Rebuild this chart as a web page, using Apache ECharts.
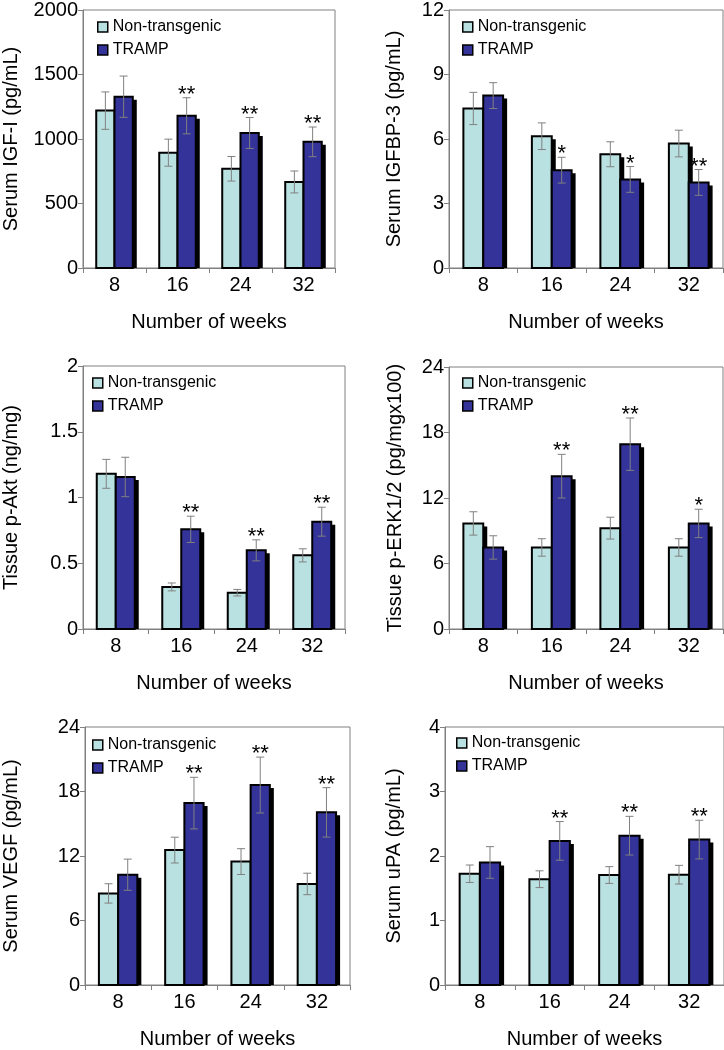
<!DOCTYPE html>
<html>
<head>
<meta charset="utf-8">
<script src="https://cdn.jsdelivr.net/npm/echarts@6/dist/echarts.min.js"></script>
<style>
  html, body { margin: 0; padding: 0; background: #fff; }
  #main { width: 724px; height: 1050px; }
</style>
</head>
<body>
<div id="main"></div>
<script>
// weeks on the x axis
const weeks = ['8', '16', '24', '32'];
const groupNames = ['Non-transgenic', 'TRAMP'];

// Serum IGF-I (pg/mL)
const igfNT = [1220, 894, 769, 667];
const igfNTErr = [145, 105, 95, 85];
const igfTR = [1328, 1180, 1047, 978];
const igfTRErr = [160, 140, 120, 115];
const igfStars = ['', '**', '**', '**'];

// Serum IGFBP-3 (pg/mL)
const bp3NT = [7.42, 6.13, 5.29, 5.79];
const bp3NTErr = [0.75, 0.62, 0.58, 0.62];
const bp3TR = [8.02, 4.55, 4.12, 3.98];
const bp3TRErr = [0.6, 0.6, 0.6, 0.6];
const bp3Stars = ['', '*', '*', '**'];

// Tissue p-Akt (ng/mg)
const aktNT = [1.18, 0.32, 0.276, 0.56];
const aktNTErr = [0.11, 0.03, 0.025, 0.05];
const aktTR = [1.156, 0.758, 0.598, 0.816];
const aktTRErr = [0.15, 0.1, 0.08, 0.11];
const aktStars = ['', '**', '**', '**'];

// Tissue p-ERK1/2 (pg/mgx100)
const erkNT = [9.67, 7.47, 9.24, 7.47];
const erkNTErr = [1.07, 0.8, 1.0, 0.8];
const erkTR = [7.47, 14.0, 16.93, 9.67];
const erkTRErr = [1.07, 2.0, 2.4, 1.3];
const erkStars = ['', '**', '**', '*'];

// Serum VEGF (pg/mL)
const vegfNT = [8.52, 12.55, 11.48, 9.4];
const vegfNTErr = [0.9, 1.2, 1.2, 1.0];
const vegfTR = [10.26, 16.92, 18.6, 16.06];
const vegfTRErr = [1.45, 2.4, 2.6, 2.3];
const vegfStars = ['', '**', '**', '**'];

// Serum uPA (pg/mL)
const upaNT = [1.725, 1.64, 1.705, 1.71];
const upaNTErr = [0.135, 0.13, 0.13, 0.145];
const upaTR = [1.9, 2.234, 2.315, 2.254];
const upaTRErr = [0.245, 0.3, 0.3, 0.3];
const upaStars = ['', '**', '**', '**'];

const NT_COLOR = '#b9e1e1';
const TR_COLOR = '#333399';
const GRAY = '#808080';
const FONT = '"Liberation Sans", Arial, sans-serif';

const panels = [
  { title: 'Serum IGF-I (pg/mL)', max: 2000, step: 500, nt: igfNT, ntErr: igfNTErr, tr: igfTR, trErr: igfTRErr, stars: igfStars,
    grid: { left: 82, top: 7, width: 253, height: 261 }, legend: { left: 97, top: 19 }, nameGap: 62 },
  { title: 'Serum IGFBP-3 (pg/mL)', max: 12, step: 3, nt: bp3NT, ntErr: bp3NTErr, tr: bp3TR, trErr: bp3TRErr, stars: bp3Stars,
    grid: { left: 449, top: 7, width: 274, height: 261 }, legend: { left: 462, top: 19 }, nameGap: 45 },
  { title: 'Tissue p-Akt (ng/mg)', max: 2, step: 0.5, nt: aktNT, ntErr: aktNTErr, tr: aktTR, trErr: aktTRErr, stars: aktStars,
    grid: { left: 81, top: 366, width: 264, height: 263 }, legend: { left: 92, top: 375 }, nameGap: 62 },
  { title: 'Tissue p-ERK1/2 (pg/mgx100)', max: 24, step: 6, nt: erkNT, ntErr: erkNTErr, tr: erkTR, trErr: erkTRErr, stars: erkStars,
    grid: { left: 449, top: 367, width: 274, height: 262 }, legend: { left: 462, top: 375 }, nameGap: 44 },
  { title: 'Serum VEGF (pg/mL)', max: 24, step: 6, nt: vegfNT, ntErr: vegfNTErr, tr: vegfTR, trErr: vegfTRErr, stars: vegfStars,
    grid: { left: 82, top: 727, width: 268, height: 262 }, legend: { left: 92, top: 737 }, nameGap: 64 },
  { title: 'Serum uPA (pg/mL)', max: 4, step: 1, nt: upaNT, ntErr: upaNTErr, tr: upaTR, trErr: upaTRErr, stars: upaStars,
    grid: { left: 445, top: 727, width: 279, height: 262 }, legend: { left: 456, top: 735 }, nameGap: 41 }
];

// bar with drop shadow, error bar and significance stars
function barRenderer(side, color, stars) {
  return function (params, api) {
    var idx = api.value(0), val = api.value(1), err = api.value(2);
    var base = api.coord([idx, 0]);
    var top = api.coord([idx, val]);
    var band = api.size([1, 0])[0];
    var w = band * 0.29;
    var x = side === 0 ? base[0] - w : base[0];
    var h = base[1] - top[1];
    var cx = x + w / 2;
    var hi = api.coord([idx, val + err])[1];
    var lo = api.coord([idx, val - err])[1];
    var children = [
      { type: 'rect', shape: { x: x + 4, y: top[1] + 3, width: w, height: h - 3 }, style: { fill: '#000' } },
      { type: 'rect', shape: { x: x, y: top[1], width: w, height: h }, style: { fill: color, stroke: '#000', lineWidth: 2 } },
      { type: 'line', shape: { x1: cx, y1: hi, x2: cx, y2: lo }, style: { stroke: GRAY, lineWidth: 1 } },
      { type: 'line', shape: { x1: cx - 4, y1: hi, x2: cx + 4, y2: hi }, style: { stroke: GRAY, lineWidth: 1 } },
      { type: 'line', shape: { x1: cx - 4, y1: lo, x2: cx + 4, y2: lo }, style: { stroke: GRAY, lineWidth: 1 } }
    ];
    var s = stars ? stars[params.dataIndex] : '';
    if (s) {
      children.push({ type: 'text', x: cx, y: hi - 3, style: {
        text: s, fill: '#000', font: '22px ' + FONT, align: 'center', verticalAlign: 'middle' } });
    }
    return { type: 'group', children: children };
  };
}

const grids = [], xAxes = [], yAxes = [], legends = [], series = [];

panels.forEach(function (p, i) {
  grids.push(Object.assign({ show: true, borderColor: GRAY, borderWidth: 1, backgroundColor: '#fff' }, p.grid));
  xAxes.push({
    type: 'category', gridIndex: i, data: weeks,
    name: 'Number of weeks', nameLocation: 'middle', nameGap: 44,
    nameTextStyle: { fontSize: 20, color: '#000', fontFamily: FONT },
    axisLine: { lineStyle: { color: GRAY } },
    axisTick: { show: true, length: 5, lineStyle: { color: GRAY } },
    axisLabel: { fontSize: 20, color: '#000', fontFamily: FONT, margin: 7 }
  });
  yAxes.push({
    type: 'value', gridIndex: i, min: 0, max: p.max, interval: p.step,
    name: p.title, nameLocation: 'middle', nameGap: p.nameGap,
    nameTextStyle: { fontSize: 20, color: '#000', fontFamily: FONT },
    axisLine: { show: true, lineStyle: { color: GRAY } },
    axisTick: { show: true, length: 5, lineStyle: { color: GRAY } },
    axisLabel: { fontSize: 20, color: '#000', fontFamily: FONT, margin: 5,
      formatter: function (v) { return String(v); } },
    splitLine: { show: false }
  });
  legends.push({
    left: p.legend.left, top: p.legend.top, orient: 'vertical', padding: 0,
    itemWidth: 10, itemHeight: 10, itemGap: 7, icon: 'rect',
    itemStyle: { borderColor: '#000', borderWidth: 1.5 },
    textStyle: { fontSize: 16, color: '#000', fontFamily: FONT },
    data: groupNames, selectedMode: false
  });
  series.push({
    type: 'custom', name: groupNames[0], xAxisIndex: i, yAxisIndex: i,
    itemStyle: { color: NT_COLOR },
    renderItem: barRenderer(0, NT_COLOR, null),
    encode: { x: 0, y: 1 },
    data: p.nt.map(function (v, k) { return [k, v, p.ntErr[k]]; })
  });
  series.push({
    type: 'custom', name: groupNames[1], xAxisIndex: i, yAxisIndex: i,
    itemStyle: { color: TR_COLOR },
    renderItem: barRenderer(1, TR_COLOR, p.stars),
    encode: { x: 0, y: 1 },
    data: p.tr.map(function (v, k) { return [k, v, p.trErr[k]]; })
  });
});

const chart = echarts.init(document.getElementById('main'));
chart.setOption({
  animation: false,
  backgroundColor: '#fff',
  grid: grids,
  xAxis: xAxes,
  yAxis: yAxes,
  legend: legends,
  series: series
});
</script>
</body>
</html>
